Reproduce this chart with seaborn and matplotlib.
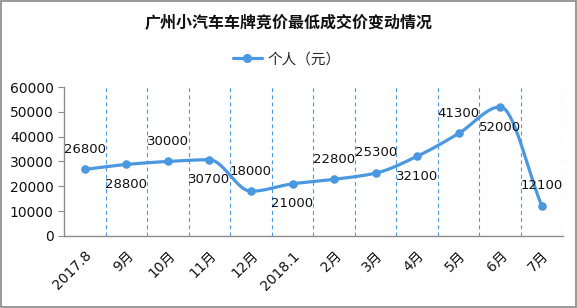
import numpy as np
import pandas as pd
import matplotlib
matplotlib.use("Agg")
import matplotlib.pyplot as plt
import matplotlib.transforms as mtrans
from matplotlib.lines import Line2D
from matplotlib.patches import Rectangle
import seaborn as sns

# ---- data ----
categories = ["2017.8", "9月", "10月", "11月", "12月", "2018.1",
              "2月", "3月", "4月", "5月", "6月", "7月"]
values = [26800, 28800, 30000, 30700, 18000, 21000,
          22800, 25300, 32100, 41300, 52000, 12100]
label_side = [1, -1, 1, -1, 1, -1, 1, 1, -1, 1, -1, 1]  # 1 above, -1 below
series_name = "个人（元）"
title = "广州小汽车车牌竞价最低成交价变动情况"

sns.set_theme(style="white")
plt.rcParams["font.family"] = ["DejaVu Sans", "Noto Sans CJK SC"]

BLUE = "#4a98e0"
GRAY = "#8c8c8c"

fig = plt.figure(figsize=(5.77, 3.08), dpi=100)
ax = fig.add_axes([0.111, 0.234, 0.864, 0.4835])

x = np.arange(len(values), dtype=float)
y = np.array(values, dtype=float)

# smoothed path through the data points (monotone cubic Hermite, Fritsch-Carlson)
h = np.diff(x)
delta = np.diff(y) / h
m = np.zeros_like(y)
m[0], m[-1] = delta[0], delta[-1]
for i in range(1, len(y) - 1):
    if delta[i - 1] * delta[i] <= 0:
        m[i] = 0.0
    else:
        w1 = 2 * h[i] + h[i - 1]
        w2 = h[i] + 2 * h[i - 1]
        m[i] = (w1 + w2) / (w1 / delta[i - 1] + w2 / delta[i])
xs, ys = [], []
t = np.linspace(0, 1, 40)
for i in range(len(y) - 1):
    h00 = 2 * t**3 - 3 * t**2 + 1
    h10 = t**3 - 2 * t**2 + t
    h01 = -2 * t**3 + 3 * t**2
    h11 = t**3 - t**2
    xs.extend(x[i] + t * h[i])
    ys.extend(h00 * y[i] + h10 * h[i] * m[i] + h01 * y[i + 1] + h11 * h[i] * m[i + 1])
curve = pd.DataFrame({"x": xs, "y": ys})
sns.lineplot(data=curve, x="x", y="y", sort=False, estimator=None,
             color=BLUE, linewidth=2.3, ax=ax)
pts = pd.DataFrame({"x": x, "y": y})
sns.scatterplot(data=pts, x="x", y="y", color=BLUE, s=38, edgecolor=BLUE,
                linewidth=0, ax=ax, zorder=5)

# dashed category separators
for b in np.arange(0.5, len(values), 1.0):
    ax.axvline(b, color=BLUE, linewidth=0.8, linestyle=(0, (3.5, 3)), zorder=1)

# data labels
for xi, yi, s in zip(x, y, label_side):
    ax.annotate(f"{int(yi)}", (xi, yi), xytext=(0, 14.5 * s), textcoords="offset points",
                ha="center", va="center", fontsize=9.5, color="#111111")

ax.set_xlim(-0.5, len(values) - 0.5)
ax.set_ylim(0, 60000)
ax.set_yticks(np.arange(0, 60001, 10000))
ax.set_yticklabels([str(v) for v in range(0, 60001, 10000)], fontsize=10, color="#111111")
ax.set_xticks(x)
ax.set_xticklabels(categories, rotation=45, ha="right", va="top",
                   rotation_mode="anchor", fontsize=10, color="#111111")
shift = mtrans.ScaledTranslation(5 / 100, 0, fig.dpi_scale_trans)
for lab in ax.get_xticklabels():
    lab.set_transform(lab.get_transform() + shift)
ax.set_xticks(np.arange(-0.5, len(values), 1.0), minor=True)
ax.tick_params(axis="x", which="major", length=0, pad=9)
ax.tick_params(axis="x", which="minor", length=4, width=0.8, color=GRAY, direction="out")
ax.tick_params(axis="y", which="major", length=4.5, width=0.8, color=GRAY,
               direction="out", left=True, pad=3)
for sp in ["top", "right"]:
    ax.spines[sp].set_visible(False)
for sp in ["left", "bottom"]:
    ax.spines[sp].set_color(GRAY)
    ax.spines[sp].set_linewidth(1.0)
ax.set_xlabel("")
ax.set_ylabel("")

fig.text(0.5, 0.925, title, ha="center", va="center", fontsize=11.5,
         fontweight="bold", family=["Noto Sans CJK SC"], color="#111111")
handle = Line2D([], [], color=BLUE, linewidth=2.3, marker="o", markersize=5.5)
fig.legend([handle], [series_name], loc="center", bbox_to_anchor=(0.497, 0.808),
           frameon=False, handlelength=2.0, handletextpad=0.4,
           prop={"family": ["Noto Sans CJK SC"], "size": 10.5})

fig.add_artist(Rectangle((0.001, 0.002), 0.997, 0.996, transform=fig.transFigure,
                         fill=False, edgecolor="#888888", linewidth=1.2))

fig.savefig("out.png", dpi=100)
